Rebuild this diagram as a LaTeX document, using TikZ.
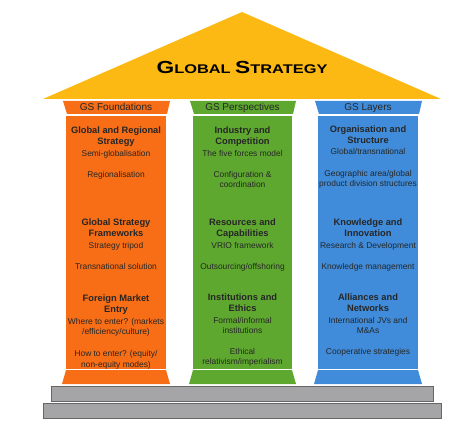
\documentclass[tikz,border=0pt]{standalone}
\usepackage{fontspec}
\setmainfont{Liberation Sans}

\definecolor{roofgold}{RGB}{253,185,19}
\definecolor{fndorange}{RGB}{247,110,22}
\definecolor{pspgreen}{RGB}{95,168,48}
\definecolor{lyrblue}{RGB}{64,140,218}
\definecolor{stairgray}{RGB}{165,165,168}

\tikzset{
  item/.style={anchor=base,inner sep=0pt,text=black!85,font=\fontsize{8.4}{10}\selectfont},
  head/.style={item,font=\fontsize{9.3}{11}\selectfont\bfseries},
  caplabel/.style={anchor=base,inner sep=0pt,text=black!85,font=\fontsize{10}{12}\selectfont},
  stair/.style={draw=black!60,fill=stairgray,line width=0.8pt},
}

\begin{document}
\begin{tikzpicture}[x=1pt,y=-1pt]
  \useasboundingbox (0,0) rectangle (474,438);

  % roof
  \coordinate (apex) at (242,12);
  \fill[roofgold] (43,99) -- (apex) -- (441,99) -- cycle;
  \node[anchor=base,inner sep=0pt] (title) at (242,73.5)
    {\bfseries\scalebox{1.3}[1]{\fontsize{17.5}{20}\selectfont G\fontsize{12.6}{14}\selectfont LOBAL
     \fontsize{17.5}{20}\selectfont S\fontsize{12.6}{14}\selectfont TRATEGY}};

  % pillars
  \foreach \n/\c/\xl/\xr/\lbl in {fnd/fndorange/66/166/GS Foundations,
      psp/pspgreen/193/292/GS Perspectives, lyr/lyrblue/318/418/GS Layers} {
    \fill[\c] (\xl-3,101) -- (\xr+4,101) -- (\xr+1,114) -- (\xl+1,114) -- cycle;
    \fill[\c] (\xl,116) rectangle (\xr,369);
    \fill[\c] (\xl,370) -- (\xr,370) -- (\xr+4,384) -- (\xl-4,384) -- cycle;
    \node[caplabel] (\n-cap) at ({(\xl+\xr)/2},111) {\lbl};
  }

  % steps
  \draw[stair] (51,386) rectangle (433,401);
  \draw[stair] (43,403) rectangle (441,418);

  % GS Foundations
  \foreach \y/\s/\t [count=\i] in {134/head/{Global and Regional}, 145/head/{Strategy},
      157/item/{Semi-globalisation}, 178/item/{Regionalisation},
      226/head/{Global Strategy}, 237/head/{Frameworks}, 249/item/{Strategy tripod},
      270/item/{Transnational solution}, 302/head/{Foreign Market}, 313/head/{Entry},
      325/item/{Where to enter? (markets}, 335/item/{/efficiency/culture)},
      356/item/{How to enter? (equity/}, 367/item/{non-equity modes)}}
    \node[\s] (fnd-\i) at (116,\y) {\t};

  % GS Perspectives
  \foreach \y/\s/\t [count=\i] in {134/head/{Industry and}, 145/head/{Competition},
      157/item/{The five forces model}, 178/item/{Configuration \&}, 188/item/{coordination},
      226/head/{Resources and}, 237/head/{Capabilities}, 249/item/{VRIO framework},
      270/item/{Outsourcing/offshoring}, 301/head/{Institutions and}, 312/head/{Ethics},
      324/item/{Formal/informal}, 334/item/{institutions}, 355/item/{Ethical},
      365/item/{relativism/imperialism}}
    \node[\s] (psp-\i) at (242.5,\y) {\t};

  % GS Layers
  \foreach \y/\s/\t [count=\i] in {133/head/{Organisation and}, 144/head/{Structure},
      155/item/{Global/transnational}, 177/item/{Geographic area/global},
      187/item/{product division structures}, 226/head/{Knowledge and},
      237/head/{Innovation}, 249/item/{Research \& Development},
      270/item/{Knowledge management}, 301/head/{Alliances and}, 312/head/{Networks},
      324/item/{International JVs and}, 334/item/{M\&As},
      355/item/{Cooperative strategies}}
    \node[\s] (lyr-\i) at (368,\y) {\t};
\end{tikzpicture}
\end{document}
